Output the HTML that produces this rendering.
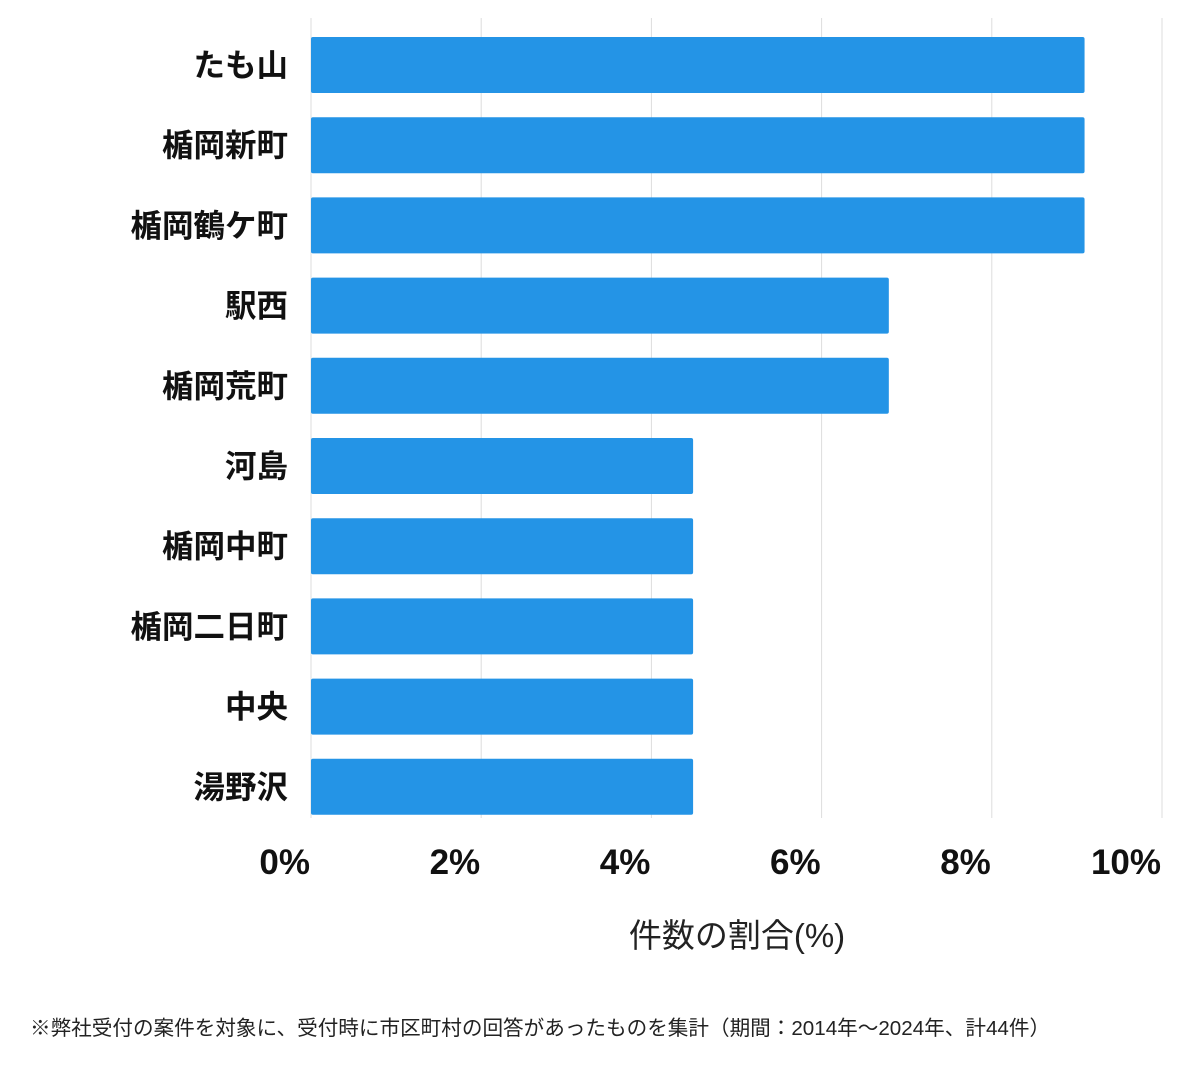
<!DOCTYPE html>
<html><head><meta charset="utf-8"><style>
body{margin:0;background:#fff;width:1200px;height:1069px;overflow:hidden;font-family:"Liberation Sans","Noto Sans CJK JP",sans-serif;}
</style></head><body>
<svg id="chart" width="1200" height="1069" xmlns="http://www.w3.org/2000/svg" font-family="'Liberation Sans','Noto Sans CJK JP',sans-serif"></svg>
<script>
const categories=["たも山","楯岡新町","楯岡鶴ケ町","駅西","楯岡荒町","河島","楯岡中町","楯岡二日町","中央","湯野沢"];
const values=[9.09,9.09,9.09,6.79,6.79,4.49,4.49,4.49,4.49,4.49];
const ticks=[0,2,4,6,8,10];
const tickLabels=["0%","2%","4%","6%","8%","10%"];
const NS="http://www.w3.org/2000/svg";
const svg=document.getElementById('chart');
const x0=311,x1=1162,top0=18,bottom=818,rowTop=37,pitch=80.2,barH=56;
const xs=v=>x0+(v/10)*(x1-x0);
function mk(t,a,txt){const e=document.createElementNS(NS,t);for(const k in a)e.setAttribute(k,a[k]);if(txt!=null)e.textContent=txt;svg.appendChild(e);return e;}
ticks.forEach((t,i)=>{
 const g=mk('line',{x1:xs(t),x2:xs(t),y1:top0,y2:bottom,stroke:'#dddddd','stroke-width':1});
 
 
 const l=mk('text',{x:xs(t)-1,y:874,'text-anchor':'end','font-size':35,'font-weight':'bold',fill:'#111'},tickLabels[i]);
 
 
});
categories.forEach((c,i)=>{
 const y=rowTop+i*pitch;
 const b=mk('rect',{x:x0,y:y,width:xs(values[i])-x0,height:barH,fill:'#2494e6',rx:2});
 
 
 const l=mk('text',{x:288,y:y+barH/2+11,'text-anchor':'end','font-size':31.5,'font-weight':'bold',fill:'#111'},c);
 
 
});
const t=mk('text',{x:737,y:947,'text-anchor':'middle','font-size':33,fill:'#222'},'件数の割合(%)');


const f=mk('text',{x:30,y:1035,'font-size':20.6,fill:'#222'},'※弊社受付の案件を対象に、受付時に市区町村の回答があったものを集計（期間：2014年～2024年、計44件）');


</script>
</body></html>
